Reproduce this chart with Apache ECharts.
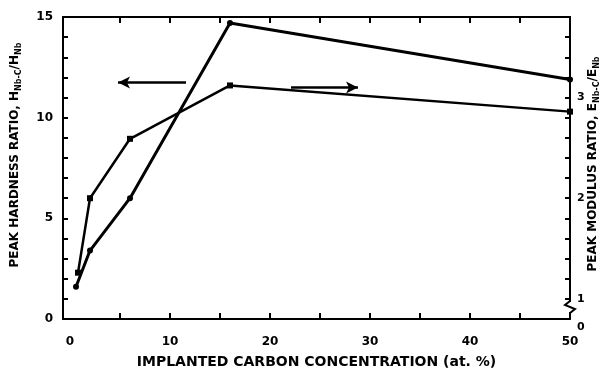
<!DOCTYPE html>
<html>
<head>
<meta charset="utf-8">
<script src="https://cdn.jsdelivr.net/npm/echarts@6/dist/echarts.min.js"></script>
<style>html,body{margin:0;padding:0;background:#fff}#c{width:606px;height:380px}</style>
</head>
<body>
<div id="c"></div>
<script>
// Data
const hardnessCarbon = [0.6, 2, 6, 16, 50];
const hardnessRatio = [1.6, 3.4, 6.0, 14.7, 11.9];
const modulusCarbon = [0.8, 2, 6, 16, 50];
const modulusRatio = [1.26, 2.0, 2.59, 3.12, 2.86];
const xLabels = [0, 10, 20, 30, 40, 50];
const xTicks = [5, 10, 15, 20, 25, 30, 35, 40, 45];
const leftLabels = [0, 5, 10, 15];
const rightLabels = [0.8, 1, 2, 3];
const leftArrow = [[11.6, 11.75], [4.8, 11.75]];
const rightArrow = [[22.1, 3.1], [28.8, 3.1]];

const font = 'DejaVu Sans';
const chart = echarts.init(document.getElementById('c'), null, {renderer: 'canvas'});
const axisLine = {show: true, onZero: false, lineStyle: {color: '#000', width: 2}};
const tickStyle = {color: '#000', width: 2};
const richName = {
  a: {color: '#000', fontFamily: font, fontWeight: 'bold', fontSize: 12, lineHeight: 14},
  s: {color: '#000', fontFamily: font, fontWeight: 'bold', fontSize: 8, lineHeight: 14, padding: [7, 0, 0, 0]}
};

chart.setOption({
  backgroundColor: '#fff',
  animation: false,
  grid: {left: 63, right: 36, top: 17, bottom: 61, outerBoundsMode: 'none', containLabel: false},
  xAxis: [{
    type: 'value', min: -0.7, max: 50, position: 'bottom',
    axisLine: axisLine,
    axisTick: {show: true, inside: true, length: 6, customValues: xTicks, lineStyle: tickStyle},
    axisLabel: {customValues: xLabels, color: '#000', fontFamily: font, fontWeight: 'bold', fontSize: 12, margin: 17},
    splitLine: {show: false},
    name: 'IMPLANTED CARBON CONCENTRATION (at. %)',
    nameLocation: 'middle', nameGap: 36, nameMoveOverlap: false,
    nameTextStyle: {color: '#000', fontFamily: font, fontWeight: 'bold', fontSize: 14}
  }, {
    type: 'value', min: -0.7, max: 50, position: 'top',
    axisLine: axisLine,
    axisTick: {show: true, inside: true, length: 6, customValues: xTicks, lineStyle: tickStyle},
    axisLabel: {show: false},
    splitLine: {show: false}
  }],
  yAxis: [{
    type: 'value', min: 0, max: 15, interval: 1, position: 'left',
    axisLine: axisLine,
    axisTick: {show: true, inside: true, length: 5, lineStyle: tickStyle},
    axisLabel: {customValues: leftLabels, color: '#000', fontFamily: font, fontWeight: 'bold', fontSize: 12, margin: 10},
    splitLine: {show: false},
    name: '{a|PEAK HARDNESS RATIO, H}{s|Nb-C}{a|/H}{s|Nb}',
    nameLocation: 'middle', nameGap: 41, nameRotate: 90, nameMoveOverlap: false,
    nameTextStyle: {rich: richName, padding: [0, 0, 0, 26]}
  }, {
    type: 'value', min: 0.8, max: 3.8, interval: 0.2, position: 'right',
    axisLine: axisLine,
    axisTick: {show: true, inside: true, length: 5, lineStyle: tickStyle},
    axisLabel: {customValues: rightLabels, color: '#000', fontFamily: font, fontWeight: 'bold', fontSize: 11, margin: 7,
      formatter: v => v < 0.9 ? '{z|0}' : String(Math.round(v)),
      rich: {z: {color: '#000', fontFamily: font, fontWeight: 'bold', fontSize: 11, padding: [16, 0, 0, 0]}}},
    splitLine: {show: false},
    name: '{a|PEAK MODULUS RATIO, E}{s|Nb-C}{a|/E}{s|Nb}',
    nameLocation: 'middle', nameGap: 16, nameRotate: 90, nameMoveOverlap: false,
    nameTextStyle: {rich: richName, padding: [0, 0, 0, 8]}
  }],
  series: [{
    name: 'Hardness', type: 'line', xAxisIndex: 0, yAxisIndex: 0,
    data: hardnessCarbon.map((x, i) => [x, hardnessRatio[i]]),
    symbol: 'circle', symbolSize: 6,
    lineStyle: {color: '#000', width: 3}, itemStyle: {color: '#000'},
    markLine: {silent: true, symbol: ['none', 'arrow'], symbolSize: [9, 12], label: {show: false},
      lineStyle: {color: '#000', width: 2.5, type: 'solid'},
      data: [[{coord: leftArrow[0]}, {coord: leftArrow[1]}]]}
  }, {
    name: 'Modulus', type: 'line', xAxisIndex: 0, yAxisIndex: 1,
    data: modulusCarbon.map((x, i) => [x, modulusRatio[i]]),
    symbol: 'rect', symbolSize: 6,
    lineStyle: {color: '#000', width: 2.5}, itemStyle: {color: '#000'},
    markLine: {silent: true, symbol: ['none', 'arrow'], symbolSize: [9, 12], label: {show: false},
      lineStyle: {color: '#000', width: 2.5, type: 'solid'},
      data: [[{coord: rightArrow[0]}, {coord: rightArrow[1]}]]}
  }],
  graphic: [{
    type: 'rect', shape: {x: 566, y: 302, width: 8, height: 10}, style: {fill: '#fff'}, z: 100
  }, {
    type: 'polyline', shape: {points: [[570, 301], [565, 305], [575, 309], [570, 313]]},
    style: {stroke: '#000', lineWidth: 2, fill: null}, z: 101
  }]
});
</script>
</body>
</html>
